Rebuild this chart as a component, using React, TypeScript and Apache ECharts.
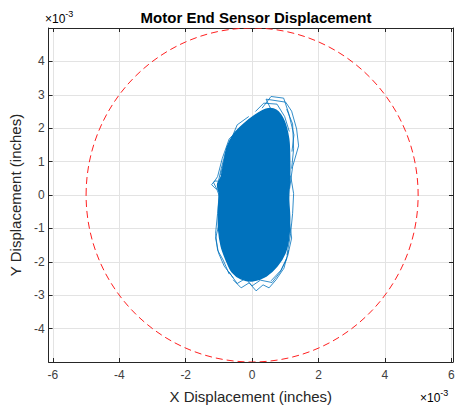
import React, { useEffect, useRef } from "react";
import * as echarts from "echarts";

// All values in units of 1e-3 inches
const xTicks = [-6, -4, -2, 0, 2, 4, 6];
const yTicks = [-4, -3, -2, -1, 0, 1, 2, 3, 4];

const circleCenter = [0, 0];
const circleRadius = 5;

// dense core of the trajectory (outline)
const coreX = [0.42, 0.72, 0.96, 1.1, 1.13, 1.13, 1.1, 1.13, 1.1, 0.99, 0.75, 0.42, 0.03, -0.33, -0.6, -0.78, -0.93, -1.01, -1.01, -0.99, -1.04, -0.93, -0.84, -0.75, -0.54, -0.24, 0.06];
const coreY = [2.57, 2.54, 2.22, 1.68, 1.09, 0.49, -0.1, -0.7, -1.29, -1.74, -2.13, -2.43, -2.57, -2.51, -2.31, -1.95, -1.53, -1.0, -0.4, 0.04, 0.31, 0.55, 1.0, 1.44, 1.83, 2.13, 2.37];

// outlying trajectory strands
const strandTop1 = [[0.6, 2.5], [0.42, 2.87], [1.01, 2.78], [1.19, 2.51], [1.34, 1.98], [1.4, 1.47], [1.22, 0.85], [1.13, 0.19]];
const strandTop2 = [[0.3, 2.6], [0.57, 2.95], [0.95, 2.9], [1.1, 2.45], [1.26, 1.8], [1.2, 1.3]];
const strandTop3 = [[0.1, 2.5], [0.35, 2.75], [0.75, 2.72], [0.98, 2.35], [1.12, 1.9]];
const strandEar = [[-0.78, 0.4], [-1.13, 0.42], [-1.22, 0.31], [-1.1, 0.19], [-0.87, 0.13]];
const strandBottom = [[-0.57, -2.54], [-0.33, -2.78], [-0.09, -2.63], [0.12, -2.87], [0.33, -2.69], [0.51, -2.78], [0.72, -2.54], [0.96, -2.19], [1.1, -1.65]];
const strandBottom2 = [[-0.7, -2.3], [-0.45, -2.65], [-0.2, -2.5], [0.0, -2.72], [0.25, -2.55], [0.6, -2.62], [0.85, -2.3], [1.05, -1.9]];
const strandLeft = [[-0.87, 0.49], [-0.99, 0.04], [-1.04, -0.55], [-1.1, -1.15], [-1.04, -1.65], [-0.87, -1.95], [-0.69, -2.37]];
const strandLeft2 = [[-0.33, 2.04], [-0.69, 1.68], [-0.9, 1.09], [-1.04, 0.55], [-1.16, 0.37], [-1.07, 0.19], [-0.96, -0.1]];
const strandLeft3 = [[-0.99, -0.85], [-1.1, -1.29], [-1.01, -1.74], [-0.84, -2.13], [-0.57, -2.48]];
const strandTopLeft = [[-0.39, 1.98], [-0.63, 1.68], [-0.81, 1.24], [-0.93, 0.79], [-1.01, 0.43]];
const strandTopLeft2 = [[-0.1, 2.35], [-0.45, 2.1], [-0.7, 1.5], [-0.85, 1.0], [-0.95, 0.6]];
const strandRight = [[1.16, 0.58], [1.25, 0.04], [1.22, -0.55], [1.16, -1.15], [1.05, -1.8]];
const strandRight2 = [[1.04, 2.57], [1.22, 2.13], [1.25, 1.38], [1.19, 0.79]];
const strandRightLow = [[1.13, -0.85], [1.19, -1.29], [1.07, -1.83], [0.87, -2.25], [0.57, -2.57]];

const strands = [strandTop1, strandTop2, strandTop3, strandEar, strandBottom, strandBottom2, strandLeft, strandLeft2, strandLeft3, strandTopLeft, strandTopLeft2, strandRight, strandRight2, strandRightLow];

const BLUE = "#0072BD";
const FONT = "'Liberation Sans', Arial, Helvetica, sans-serif";
const LABEL = "#404040";

export default function App() {
  const ref = useRef<HTMLDivElement>(null);
  useEffect(() => {
    if (!ref.current) return;
    const chart = echarts.init(ref.current, undefined, { renderer: "svg" });
    const axisLineStyle = { color: "#262626", width: 1 };
    const expRich = {
      a: { fontFamily: FONT, fontSize: 12, color: LABEL, verticalAlign: "bottom" },
      b: { fontFamily: FONT, fontSize: 9, color: LABEL, verticalAlign: "top", padding: [0, 0, 7, 0] },
    };
    const option: any = {
      animation: false,
      backgroundColor: "#ffffff",
      textStyle: { fontFamily: FONT },
      title: {
        text: "Motor End Sensor Displacement",
        left: 251,
        textAlign: "center",
        top: 5,
        textStyle: { fontFamily: FONT, fontSize: 15, fontWeight: "bold", color: "#000" },
      },
      grid: { left: 45, right: 6, top: 28, bottom: 44, containLabel: false },
      xAxis: [
        {
          type: "value",
          min: -6.13,
          max: 6.05,
          name: "X Displacement (inches)",
          nameLocation: "middle",
          nameGap: 27,
          nameTextStyle: { fontFamily: FONT, fontSize: 15, color: "#262626" },
          axisLine: { show: true, onZero: false, lineStyle: axisLineStyle },
          axisTick: { show: true, inside: true, length: 4, customValues: xTicks, lineStyle: axisLineStyle },
          axisLabel: { customValues: xTicks, fontFamily: FONT, fontSize: 12, color: LABEL, margin: 7, formatter: (v: number) => String(v) },
          splitLine: { show: true, lineStyle: { color: "#e3e3e3", width: 1 } },
        },
        {
          type: "value",
          position: "top",
          min: -6.13,
          max: 6.05,
          axisLine: { show: true, onZero: false, lineStyle: axisLineStyle },
          axisTick: { show: true, inside: true, length: 4, customValues: xTicks, lineStyle: axisLineStyle },
          axisLabel: { show: false },
          splitLine: { show: false },
        },
      ],
      yAxis: [
        {
          type: "value",
          min: -5,
          max: 5,
          interval: 1,
          name: "Y Displacement (inches)",
          nameLocation: "middle",
          nameGap: 20,
          nameTextStyle: { fontFamily: FONT, fontSize: 15, color: "#262626" },
          axisLine: { show: true, onZero: false, lineStyle: axisLineStyle },
          axisTick: { show: true, inside: true, length: 4, lineStyle: axisLineStyle },
          axisLabel: {
            fontFamily: FONT,
            fontSize: 12,
            color: LABEL,
            margin: 4,
            showMinLabel: false,
            showMaxLabel: false,
            formatter: (v: number) => (yTicks.includes(v) ? String(v) : ""),
          },
          splitLine: { show: true, lineStyle: { color: "#e3e3e3", width: 1 } },
        },
        {
          type: "value",
          position: "right",
          min: -5,
          max: 5,
          interval: 1,
          axisLine: { show: true, onZero: false, lineStyle: axisLineStyle },
          axisTick: { show: true, inside: true, length: 4, lineStyle: axisLineStyle },
          axisLabel: { show: false },
          splitLine: { show: false },
        },
      ],
      graphic: [
        { type: "text", left: 45, top: 9, style: { text: "{a|×10}{b|-3}", rich: expRich } },
        { type: "text", left: 420, top: 388, style: { text: "{a|×10}{b|-3}", rich: expRich } },
      ],
      series: [
        {
          type: "custom",
          name: "core",
          xAxisIndex: 0,
          yAxisIndex: 0,
          clip: true,
          data: coreX.map((x, i) => [x, coreY[i]]),
          renderItem: (params: any, api: any) => {
            if (params.dataIndex !== 0) return null;
            const pts = coreX.map((x, i) => api.coord([x, coreY[i]]));
            return {
              type: "polygon",
              shape: { points: pts, smooth: 0.3 },
              style: { fill: BLUE, stroke: BLUE, lineWidth: 1.5 },
            };
          },
          z: 3,
        },
        ...strands.map((s, i) => ({
          type: "line",
          name: "strand" + i,
          xAxisIndex: 0,
          yAxisIndex: 0,
          data: s,
          showSymbol: false,
          symbol: "none",
          lineStyle: { color: BLUE, width: 1, opacity: 0.8 },
          z: 2,
        })),
        {
          type: "custom",
          name: "limit",
          xAxisIndex: 0,
          yAxisIndex: 0,
          clip: true,
          data: [[circleCenter[0], circleCenter[1], circleRadius]],
          renderItem: (params: any, api: any) => {
            const c = api.coord([api.value(0), api.value(1)]);
            const sz = api.size([api.value(2), api.value(2)]);
            return {
              type: "ellipse",
              shape: { cx: c[0], cy: c[1], rx: sz[0], ry: sz[1] },
              style: { fill: "none", stroke: "#FF2020", lineWidth: 1, lineDash: [7, 4] },
            };
          },
          z: 4,
        },
      ],
    };
    chart.setOption(option);
    return () => chart.dispose();
  }, []);
  return (
    <div
      ref={ref}
      style={{ position: "fixed", left: 0, top: 0, width: 459, height: 409, background: "#fff" }}
    />
  );
}
